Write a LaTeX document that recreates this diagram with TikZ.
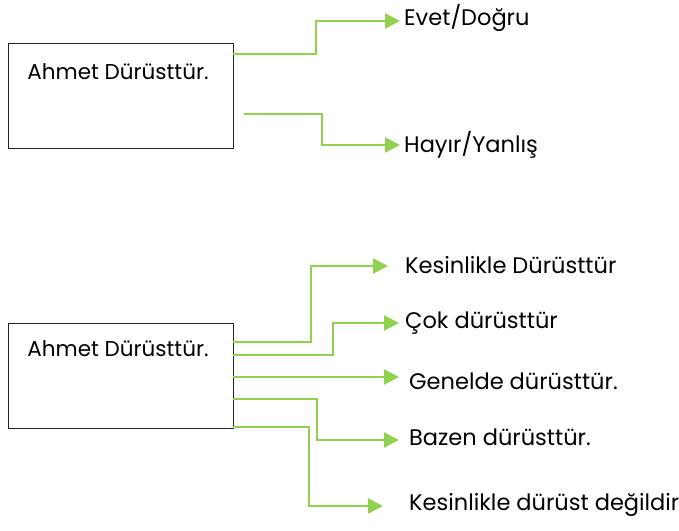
\documentclass[tikz,border=0pt]{standalone}
\usepackage{fontspec}
\setmainfont{Poppins}
\usetikzlibrary{arrows.meta}
\definecolor{leaf}{HTML}{92D050}
\tikzset{
  claim/.style={draw=black!85, line width=1pt, minimum width=225pt, minimum height=105pt, inner sep=0pt},
  claimtext/.style={inner sep=0pt, font=\fontsize{21.5}{24}\selectfont},
  answer/.style={anchor=west, inner sep=0pt, font=\fontsize{22.5}{26}\selectfont},
  link/.style={draw=leaf, line width=2.3pt, -{Triangle[length=15pt,width=15pt]}},
}
\begin{document}
\begin{tikzpicture}[x=1pt,y=-1pt]
\useasboundingbox (0,0) rectangle (679,530);
% upper statement with a yes/no choice
\node[claim] (s1) at (120.5,95.5) {};
\node[claimtext] (t1) at (118,72) {Ahmet Dürüsttür.};
\coordinate (s1a) at (233,54);
\coordinate (s1b) at (244,114);
\node[answer] (yes) at (404,18) {Evet/Doğru};
\node[answer] (no) at (404,145) {Hayır/Yanlış};
\draw[link] (s1a) -| (316,21) -- (400,21);
\draw[link] (s1b) -| (322,145) -- (400,145);
% lower statement with a graded scale
\node[claim] (s2) at (120.5,375.5) {};
\node[claimtext] (t2) at (118,349) {Ahmet Dürüsttür.};
\coordinate (o1) at (233,342);
\coordinate (o2) at (233,355);
\coordinate (o3) at (233,377);
\coordinate (o4) at (233,399);
\coordinate (o5) at (233,427);
\node[answer] (g1) at (405,265) {Kesinlikle Dürüsttür};
\node[answer] (g2) at (405,323) {Çok dürüsttür};
\node[answer] (g3) at (409,381) {Genelde dürüsttür.};
\node[answer] (g4) at (409,437) {Bazen dürüsttür.};
\node[answer] (g5) at (409,505) {Kesinlikle dürüst değildir};
\draw[link] (o1) -| (311,266) -- (388,266);
\draw[link] (o2) -| (333,323) -- (399,323);
\draw[link] (o3) -- (399,377);
\draw[link] (o4) -| (317,440) -- (399,440);
\draw[link] (o5) -| (309,506) -- (383,506);
\end{tikzpicture}
\end{document}
